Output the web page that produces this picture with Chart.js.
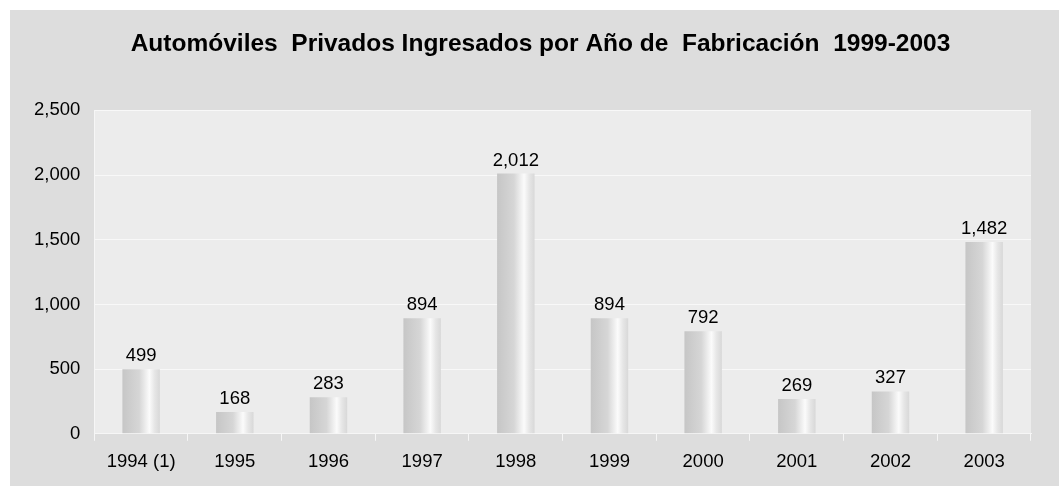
<!DOCTYPE html>
<html>
<head>
<meta charset="utf-8">
<script src="https://cdn.jsdelivr.net/npm/chart.js@4"></script>
<style>
  html, body { margin: 0; padding: 0; background: #ffffff; }
  #wrap { position: absolute; left: 10px; top: 10px; width: 1049px; height: 476px; background: #dddddd; }
</style>
</head>
<body>
<div id="wrap"><canvas id="autosChart"></canvas></div>
<script>
const years = ["1994 (1)", "1995", "1996", "1997", "1998", "1999", "2000", "2001", "2002", "2003"];
const autos = [499, 168, 283, 894, 2012, 894, 792, 269, 327, 1482];
const chartTitle = "Automóviles  Privados Ingresados por Año de  Fabricación  1999-2003";

// plot area fill + value labels on top of bars
const plotBg = {
  id: "plotBg",
  afterLayout(chart) {
    // title sits a bit right of centre in the original
    if (chart.titleBlock) chart.titleBlock.left += 30;
  },
  beforeDraw(chart) {
    const a = chart.chartArea;
    const c = chart.ctx;
    c.save();
    c.fillStyle = "#ececec";
    c.fillRect(a.left, a.top, a.right - a.left, a.bottom - a.top);
    c.restore();
  },
  afterDatasetsDraw(chart) {
    const c = chart.ctx;
    c.save();
    c.font = "18.5px 'Liberation Sans', Arial, sans-serif";
    c.fillStyle = "#000";
    c.textAlign = "center";
    c.textBaseline = "alphabetic";
    chart.getDatasetMeta(0).data.forEach((bar, i) => {
      c.fillText(autos[i].toLocaleString("en-US"), bar.x, bar.y - 8);
    });
    c.restore();
  }
};

function barShade(ctx) {
  const chart = ctx.chart;
  const xs = chart.scales.x;
  if (!xs || !chart.chartArea) return "#d4d4d4";
  const cx = xs.getPixelForValue(ctx.dataIndex);
  const w = xs.width / years.length * 0.4;
  const g = chart.ctx.createLinearGradient(cx - w / 2, 0, cx + w / 2, 0);
  g.addColorStop(0, "#c6c6c6");
  g.addColorStop(0.45, "#d6d6d6");
  g.addColorStop(0.72, "#fbfbfb");
  g.addColorStop(0.86, "#e6e6e6");
  g.addColorStop(1, "#d8d8d8");
  return g;
}

Chart.defaults.font.family = "'Liberation Sans', Arial, sans-serif";
Chart.defaults.color = "#000";

new Chart("autosChart", {
  type: "bar",
  data: {
    labels: years,
    datasets: [{
      data: autos,
      backgroundColor: barShade,
      borderWidth: 0,
      categoryPercentage: 1,
      barPercentage: 0.4
    }]
  },
  options: {
    responsive: true,
    maintainAspectRatio: false,
    animation: false,
    layout: { padding: { left: 10, right: 28, top: 0, bottom: 3 } },
    plugins: {
      legend: { display: false },
      tooltip: { enabled: false },
      title: {
        display: true,
        text: chartTitle,
        font: { size: 24.5, weight: "bold" },
        color: "#000",
        padding: { top: 20, bottom: 51 }
      }
    },
    scales: {
      x: {
        grid: {
          offset: true,
          drawOnChartArea: false,
          drawTicks: true,
          tickLength: 7,
          color: "#f6f6f6"
        },
        border: { color: "#f6f6f6", width: 1 },
        ticks: { font: { size: 18.5 }, padding: 10, color: "#000" }
      },
      y: {
        min: 0,
        max: 2500,
        grid: { color: "#f8f8f8", drawTicks: false, lineWidth: 1 },
        border: { color: "#f6f6f6", width: 1 },
        ticks: {
          stepSize: 500,
          font: { size: 18.5 },
          padding: 14,
          color: "#000",
          callback: v => v.toLocaleString("en-US")
        }
      }
    }
  },
  plugins: [plotBg]
});
</script>
</body>
</html>
